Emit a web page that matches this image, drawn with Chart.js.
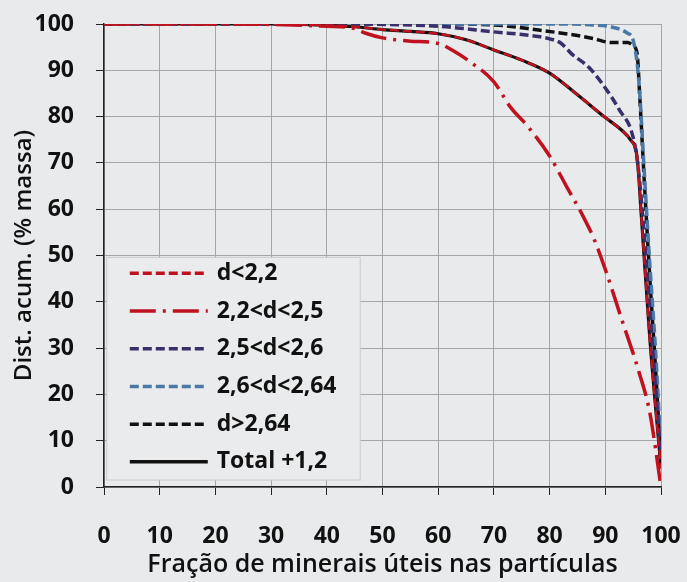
<!DOCTYPE html>
<html>
<head>
<meta charset="utf-8">
<script src="https://cdn.jsdelivr.net/npm/chart.js@4.4.0/dist/chart.umd.min.js"></script>
<style>
  html, body { margin: 0; padding: 0; background: #e8eaec; }
  #wrap { width: 687px; height: 582px; }
</style>
</head>
<body>
<div id="wrap"><canvas id="curvas"></canvas></div>
<script>
// frações (x) e distribuição acumulada (y) lidas do gráfico
// d<2,2 não aparece no gráfico: fica por baixo da curva Total
const xD22 = [0, 30, 40, 45, 50, 55, 60, 65, 70, 75, 80, 85, 90, 93, 94.5, 95.7, 96.5, 98, 100];
const yD22 = [100, 100, 99.7, 99.4, 98.8, 98.4, 97.9, 96.6, 94.4, 92.2, 89.4, 84.7, 79.8, 77, 75, 71.3, 58, 32, 4];

const xD22a25 = [0, 20, 40, 45, 47, 50, 55, 60, 63, 66, 70, 73, 76, 80, 83, 86, 88, 90, 93, 96, 98, 100];
const yD22a25 = [100, 100, 99.5, 99, 98, 97, 96.3, 95.8, 94, 91.6, 87.5, 82, 78, 71.5, 65, 58.5, 53.5, 47, 36, 25, 16, 0];

const xD25a26 = [0, 40, 60, 70, 78, 80, 82, 84, 87, 90, 92.5, 95, 96, 98, 100];
const yD25a26 = [100, 100, 99.5, 98.3, 97.3, 96.8, 95.9, 93.5, 90.7, 86.2, 81.5, 75.5, 68, 38, 6];

const xD26a264 = [0, 40, 60, 80, 88, 91, 94, 95, 96, 97, 98, 99, 100];
const yD26a264 = [100, 100, 100, 100, 99.8, 99.4, 98, 96.5, 88, 68, 48, 30, 8];

const xD264 = [0, 40, 60, 70, 78, 85, 88, 91, 94, 95, 95.7, 96.2, 97, 98, 99, 100];
const yD264 = [100, 100, 100, 99.8, 98.7, 97.5, 96.8, 96, 96, 95.3, 93.7, 84, 66, 45, 26, 5];

const xTotal = [0, 30, 40, 45, 50, 55, 60, 65, 70, 75, 80, 85, 90, 93, 94.5, 95.7, 96.5, 98, 100];
const yTotal = [100, 100, 99.7, 99.4, 98.8, 98.4, 97.9, 96.6, 94.4, 92.2, 89.4, 84.7, 79.8, 77, 75, 71.3, 58, 32, 4];

const labels = ['d<2,2', '2,2<d<2,5', '2,5<d<2,6', '2,6<d<2,64', 'd>2,64', 'Total +1,2'];

const pts = (xs, ys) => xs.map((x, i) => ({ x: x, y: ys[i] }));

const FONT = "'Open Sans', sans-serif";

// legenda desenhada dentro da área do gráfico
const boxLegend = {
  id: 'boxLegend',
  afterDatasetsDraw(chart) {
    const ctx = chart.ctx;
    const xs = chart.scales.x, ys = chart.scales.y;
    const left = xs.getPixelForValue(0.5), right = xs.getPixelForValue(46);
    const top = ys.getPixelForValue(49.6), bottom = ys.getPixelForValue(1.5);
    ctx.save();
    ctx.fillStyle = '#eaebec';
    ctx.strokeStyle = '#c9cbcd';
    ctx.lineWidth = 1;
    ctx.fillRect(left, top, right - left, bottom - top);
    ctx.strokeRect(left, top, right - left, bottom - top);
    const rowH = 37.7;
    chart.data.datasets.forEach((ds, i) => {
      const cy = top + 16 + i * rowH;
      ctx.beginPath();
      ctx.strokeStyle = ds.borderColor;
      ctx.lineWidth = 3.5;
      ctx.setLineDash(ds.borderDash || []);
      ctx.moveTo(left + 23, cy);
      ctx.lineTo(left + 101, cy);
      ctx.stroke();
      ctx.setLineDash([]);
      ctx.fillStyle = '#111';
      ctx.font = 'bold 23px ' + FONT;
      ctx.textBaseline = 'middle';
      ctx.fillText(ds.label, left + 110, cy);
    });
    ctx.restore();
  }
};

new Chart(document.getElementById('curvas'), {
  type: 'line',
  data: {
    datasets: [
      { label: labels[0], data: pts(xD22, yD22), borderColor: '#c0121e', borderWidth: 2.5, borderDash: [9, 4] },
      { label: labels[1], data: pts(xD22a25, yD22a25), borderColor: '#c0121e', borderWidth: 3.5, borderDash: [26, 7, 3, 7] },
      { label: labels[2], data: pts(xD25a26, yD25a26), borderColor: '#3a2f6b', borderWidth: 3.5, borderDash: [9, 4] },
      { label: labels[3], data: pts(xD26a264, yD26a264), borderColor: '#4a79a8', borderWidth: 3.5, borderDash: [9, 4] },
      { label: labels[4], data: pts(xD264, yD264), borderColor: '#111111', borderWidth: 3.5, borderDash: [9, 4] },
      { label: labels[5], data: pts(xTotal, yTotal), borderColor: '#111111', borderWidth: 3.2 }
    ]
  },
  options: {
    responsive: true,
    maintainAspectRatio: false,
    animation: false,
    cubicInterpolationMode: 'monotone',
    elements: { point: { radius: 0 } },
    layout: { padding: { top: 24, right: 26, left: 0, bottom: 0 } },
    plugins: { legend: { display: false }, tooltip: { enabled: false } },
    scales: {
      x: {
        type: 'linear', min: 0, max: 100,
        ticks: { stepSize: 10, padding: 28, color: '#111', font: { family: FONT, size: 23, weight: 'bold' } },
        grid: { color: '#a4a6a8', tickColor: '#222', tickLength: 8 },
        border: { color: '#222', width: 1.5 },
        title: { display: true, text: 'Fração de minerais úteis nas partículas', color: '#111',
                 font: { family: FONT, size: 25, weight: '600' }, padding: { top: 0, bottom: 2 } },
        afterFit(s) { s.height = 95; s.paddingLeft = 12; s.paddingRight = 22; }
      },
      y: {
        min: 0, max: 100,
        ticks: { stepSize: 10, padding: 22, color: '#111', font: { family: FONT, size: 23, weight: 'bold' } },
        grid: { color: '#a4a6a8', tickColor: '#222', tickLength: 8 },
        border: { color: '#222', width: 1.5 },
        title: { display: true, text: 'Dist. acum. (% massa)', color: '#111',
                 font: { family: FONT, size: 24, weight: '600' }, padding: { top: 10, bottom: 0 } },
        afterFit(s) { s.width = 104; s.paddingTop = 14; s.paddingBottom = 14; }
      }
    }
  },
  plugins: [boxLegend]
});
</script>
</body>
</html>
